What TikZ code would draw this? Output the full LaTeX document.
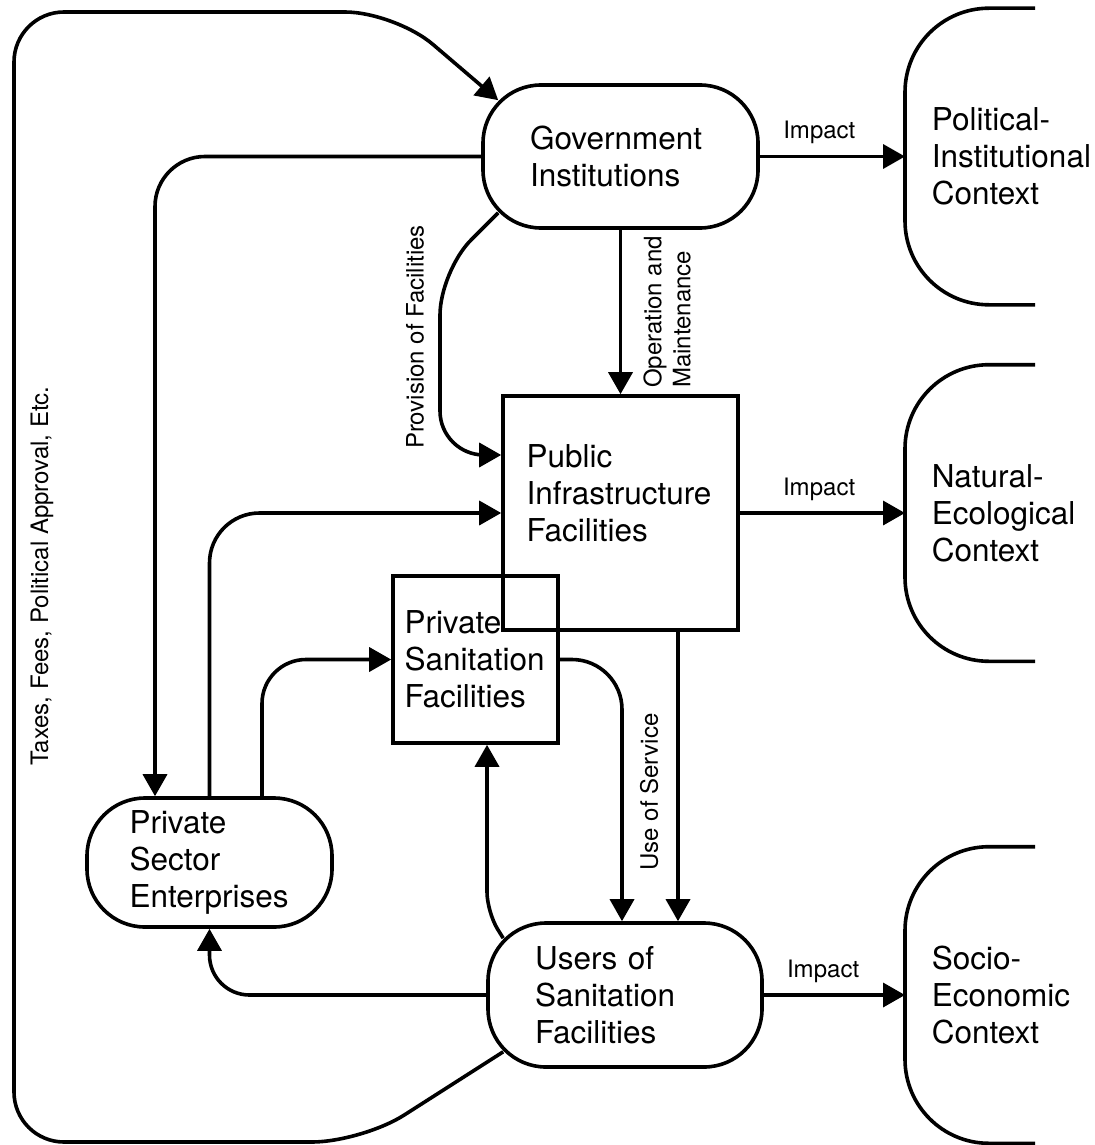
\documentclass[tikz,border=0pt]{standalone}
\usepackage{fontspec}
\setmainfont{TeX Gyre Heros}
\usetikzlibrary{arrows.meta}

\newcommand\boxfont{\fontsize{15.75}{18.5}\selectfont}
\newcommand\lblfont{\fontsize{12}{14.5}\selectfont}

\begin{document}
\begin{tikzpicture}[x=0.5pt,y=-0.5pt,line width=1.8pt,
    actor/.style={draw,rounded corners=29pt,align=left,font=\boxfont,inner xsep=23.5pt},
    facility/.style={draw,align=left,font=\boxfont},
    context/.style={anchor=west,align=left,font=\boxfont,text width=81pt,inner xsep=12.5pt,minimum height=146.5pt},
    flow/.style={-{Triangle[length=11pt,width=12pt]}},
    lbl/.style={font=\lblfont}]
    \useasboundingbox (0,0) rectangle (1095,1145);

    % actors and facilities
    \node[actor,text width=90.5pt,minimum height=71.5pt] (gov) at (620.5,156.5) {Government\\Institutions};
    \node[facility,text width=94pt,inner xsep=11.75pt,minimum height=117pt,text depth=56.5pt] (pub) at (620.5,513) {Public\\Infrastructure\\Facilities};
    \node[facility,text width=71pt,inner xsep=5.75pt,minimum height=83.5pt] (psf) at (475.5,659.5) {Private\\Sanitation\\Facilities};
    \node[actor,text width=80pt,inner xsep=21.25pt,minimum height=64.5pt] (pse) at (209.5,862.5) {Private\\Sector\\Enterprises};
    \node[actor,text width=90pt,minimum height=72pt] (users) at (625,995) {Users of\\Sanitation\\Facilities};

    % contexts
    \node[context] (polctx) at (905,156.5) {Political-\\Institutional\\Context};
    \node[context] (natctx) at (905,513) {Natural-\\Ecological\\Context};
    \node[context] (socctx) at (905,995) {Socio-\\Economic\\Context};
    \foreach \cname in {polctx,natctx,socctx}
      \draw[rounded corners=42pt] ([shift={(130,0)}]\cname.north west) -- (\cname.north west)
        -- (\cname.south west) -- ([shift={(130,0)}]\cname.south west);

    % impacts
    \draw[flow] (gov.east) -- node[lbl,above=2pt,pos=0.41] (imp1) {Impact} (polctx.west);
    \draw[flow] (pub.east) -- node[lbl,above=2pt,pos=0.48] (imp2) {Impact} (natctx.west);
    \draw[flow] (users.east) -- node[lbl,above=2pt,pos=0.42] (imp3) {Impact} (socctx.west);

    % government
    \draw[flow] (gov.south) -- (pub.north);
    \node[lbl,rotate=90,align=left] (opm) at (667,312) {Operation and\\Maintenance};
    \draw[flow,rounded corners=22pt] ([shift={(17,-17)}]gov.south west) -- (440,271) -- (440,455)
      -- ([shift={(0,-58)}]pub.west);
    \node[lbl,rotate=90] (prov) at (415,337) {Provision of Facilities};
    \draw[flow,rounded corners=25pt] (gov.west) -| ([shift={(-54.5,0)}]pse.north);

    % taxes loop
    \draw[flow,rounded corners=25pt] ([shift={(17,-17)}]users.south west) -- (362,1142) -- (14,1142)
      -- (14,12) -- (395,12) -- ([shift={(17,17)}]gov.north west);
    \node[lbl,rotate=90] (taxes) at (42,576) {Taxes, Fees, Political Approval, Etc.};

    % private sector
    \draw[flow,rounded corners=25pt] (pse.north) |- (pub.west);
    \draw[flow,rounded corners=22pt] ([shift={(52.5,0)}]pse.north) |- (psf.west);

    % users
    \draw[flow,rounded corners=20pt] (users.west) -| (pse.south);
    \draw[flow,rounded corners=10pt] ([shift={(17,17)}]users.north west) -- (487,912) -- ([shift={(11.5,0)}]psf.south);
    \draw[flow,rounded corners=25pt] (psf.east) -| ([shift={(-3,0)}]users.north);
    \node[lbl,rotate=90] (usesvc) at (649,792) {Use of Service};
    \coordinate (pubout) at ([shift={(57.5,0)}]pub.south);
    \draw[flow] (pubout) -- (pubout |- users.north);
\end{tikzpicture}
\end{document}
